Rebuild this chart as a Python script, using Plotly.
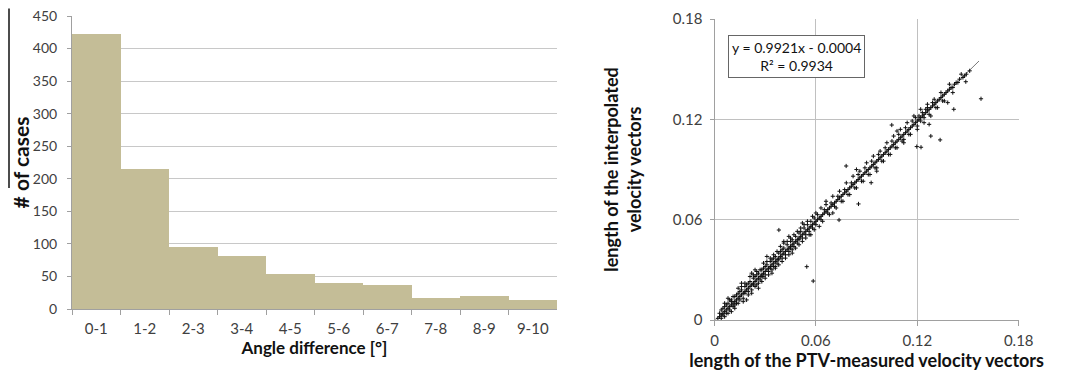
import plotly.graph_objects as go

# ---------------- data: histogram ----------------
categories = ["0-1", "1-2", "2-3", "3-4", "4-5", "5-6", "6-7", "7-8", "8-9", "9-10"]
counts = [423, 215, 95, 82, 53, 40, 37, 17, 20, 14]
hist_ticks = [0, 50, 100, 150, 200, 250, 300, 350, 400, 450]

# ---------------- data: scatter ----------------
pts = [
    (0.002,0.001),(0.003,0.004),(0.003,0.002),(0.004,0.003),(0.004,0.006),(0.005,0.004),(0.005,0.007),(0.005,0.003),
    (0.006,0.005),(0.006,0.008),(0.007,0.006),(0.007,0.004),(0.007,0.009),(0.008,0.007),(0.008,0.010),(0.009,0.008),
    (0.009,0.006),(0.010,0.009),(0.010,0.012),(0.010,0.011),(0.011,0.010),(0.011,0.008),(0.012,0.011),(0.012,0.014),
    (0.013,0.012),(0.013,0.010),(0.013,0.015),(0.014,0.013),(0.014,0.016),(0.015,0.014),(0.015,0.012),(0.015,0.017),
    (0.016,0.015),(0.016,0.018),(0.017,0.016),(0.017,0.013),(0.018,0.017),(0.018,0.020),(0.018,0.016),(0.019,0.018),
    (0.019,0.021),(0.020,0.019),(0.020,0.017),(0.020,0.022),(0.021,0.020),(0.021,0.023),(0.022,0.021),(0.022,0.018),
    (0.023,0.022),(0.023,0.025),(0.023,0.021),(0.024,0.023),(0.024,0.026),(0.025,0.024),(0.025,0.021),(0.025,0.027),
    (0.026,0.025),(0.026,0.028),(0.027,0.026),(0.027,0.024),(0.028,0.027),(0.028,0.030),(0.028,0.026),(0.029,0.028),
    (0.029,0.031),(0.030,0.029),(0.030,0.027),(0.030,0.032),(0.031,0.030),(0.031,0.033),(0.032,0.031),(0.032,0.029),
    (0.033,0.032),(0.033,0.035),(0.033,0.031),(0.034,0.033),(0.034,0.036),(0.035,0.034),(0.035,0.032),(0.035,0.037),
    (0.036,0.035),(0.036,0.038),(0.037,0.036),(0.037,0.034),(0.038,0.037),(0.038,0.040),(0.038,0.036),(0.039,0.038),
    (0.039,0.041),(0.040,0.039),(0.040,0.037),(0.040,0.042),(0.041,0.040),(0.041,0.043),(0.042,0.041),(0.042,0.039),
    (0.043,0.042),(0.043,0.045),(0.044,0.043),(0.044,0.041),(0.045,0.044),(0.045,0.047),(0.045,0.043),(0.046,0.045),
    (0.046,0.048),(0.047,0.046),(0.047,0.044),(0.048,0.047),(0.048,0.050),(0.049,0.048),(0.049,0.046),(0.050,0.049),
    (0.050,0.052),(0.050,0.048),(0.051,0.050),(0.051,0.053),(0.052,0.051),(0.052,0.049),(0.053,0.052),(0.053,0.055),
    (0.054,0.053),(0.054,0.051),(0.055,0.054),(0.055,0.057),(0.056,0.055),(0.056,0.053),(0.057,0.056),(0.057,0.059),
    (0.058,0.057),(0.058,0.055),(0.059,0.058),(0.059,0.061),(0.060,0.059),(0.060,0.057),
    (0.008,0.013),(0.012,0.007),(0.016,0.022),(0.019,0.012),(0.022,0.028),(0.026,0.019),(0.0286,0.0259),(0.031,0.038),
    (0.034,0.028),(0.0381,0.0538),(0.041,0.047),(0.046,0.040),(0.0546,0.0319),(0.0584,0.0233),(0.052,0.058),(0.057,0.051),
    (0.044,0.050),(0.036,0.031),(0.024,0.030),(0.014,0.019),(0.010,0.005),
    (0.061,0.060),(0.061,0.063),(0.062,0.061),(0.063,0.062),(0.063,0.060),(0.064,0.063),(0.065,0.064),(0.065,0.066),
    (0.066,0.065),(0.067,0.066),(0.067,0.064),(0.068,0.067),(0.069,0.068),(0.069,0.070),(0.070,0.069),(0.071,0.070),
    (0.071,0.068),(0.072,0.071),(0.073,0.072),(0.073,0.074),(0.074,0.073),(0.075,0.074),(0.075,0.071),(0.076,0.075),
    (0.077,0.076),(0.077,0.078),(0.078,0.077),(0.079,0.078),(0.079,0.075),(0.080,0.079),(0.081,0.080),(0.081,0.082),
    (0.082,0.081),(0.083,0.082),(0.083,0.079),(0.084,0.083),(0.085,0.084),(0.085,0.087),(0.086,0.085),(0.087,0.086),
    (0.087,0.083),(0.088,0.087),(0.089,0.088),(0.089,0.091),(0.090,0.089),(0.091,0.090),(0.091,0.087),(0.092,0.091),
    (0.093,0.092),(0.093,0.095),(0.094,0.093),(0.095,0.094),(0.095,0.091),(0.096,0.095),(0.097,0.096),(0.097,0.099),
    (0.098,0.097),(0.099,0.098),(0.099,0.095),(0.100,0.099),(0.101,0.100),(0.101,0.103),(0.102,0.101),(0.103,0.102),
    (0.103,0.099),(0.104,0.103),(0.105,0.104),(0.105,0.107),(0.106,0.105),(0.107,0.106),(0.107,0.103),(0.108,0.107),
    (0.109,0.108),(0.109,0.111),(0.110,0.109),(0.111,0.110),(0.111,0.107),(0.112,0.111),(0.113,0.112),(0.113,0.115),
    (0.114,0.113),(0.115,0.114),(0.115,0.111),(0.116,0.115),(0.117,0.116),(0.117,0.119),(0.118,0.117),(0.119,0.118),
    (0.119,0.121),(0.120,0.119),(0.120,0.116),
    (0.0737,0.0598),(0.0779,0.0921),(0.0852,0.0694),(0.0927,0.0821),(0.1049,0.1166),(0.066,0.071),(0.070,0.064),
    (0.084,0.090),(0.096,0.089),(0.108,0.113),(0.112,0.106),
    (0.121,0.120),(0.121,0.122),(0.122,0.121),(0.122,0.119),(0.123,0.122),(0.123,0.124),(0.124,0.123),(0.124,0.121),
    (0.125,0.124),(0.125,0.126),(0.126,0.125),(0.127,0.126),(0.127,0.123),(0.128,0.127),(0.129,0.128),(0.129,0.130),
    (0.130,0.129),(0.131,0.130),(0.131,0.127),(0.132,0.131),(0.133,0.132),(0.134,0.133),(0.135,0.134),(0.135,0.131),
    (0.136,0.135),(0.137,0.136),(0.138,0.137),(0.139,0.138),(0.140,0.139),(0.141,0.139),(0.142,0.141),(0.143,0.142),
    (0.145,0.144),(0.147,0.145),(0.149,0.147),(0.151,0.149),
    (0.1197,0.1037),(0.1222,0.1033),(0.1335,0.1077),(0.1416,0.126),(0.1577,0.1323),(0.1487,0.1425),(0.127,0.117),
    (0.128,0.110),(0.138,0.130),(0.126,0.129),
    (0.004,0.001),(0.006,0.002),(0.006,0.010),(0.008,0.004),(0.009,0.012),(0.011,0.014),(0.012,0.009),(0.014,0.010),
    (0.016,0.020),(0.017,0.011),(0.018,0.022),(0.020,0.015),(0.021,0.026),(0.022,0.016),(0.023,0.027),(0.024,0.020),
    (0.025,0.029),(0.026,0.022),(0.027,0.030),(0.028,0.023),(0.029,0.034),(0.030,0.025),(0.031,0.035),(0.032,0.027),
    (0.033,0.037),(0.034,0.030),(0.035,0.039),(0.036,0.032),(0.037,0.041),(0.038,0.033),(0.039,0.044),(0.040,0.035),
    (0.041,0.046),(0.042,0.037),(0.043,0.047),(0.044,0.039),(0.045,0.049),(0.046,0.042),(0.047,0.051),(0.048,0.043),
    (0.049,0.053),(0.050,0.045),(0.051,0.055),(0.052,0.047),(0.053,0.057),(0.054,0.049),(0.055,0.059),(0.056,0.051),
    (0.058,0.062),(0.059,0.054),(0.060,0.064),(0.062,0.056),(0.063,0.067),(0.064,0.059),(0.066,0.069),(0.068,0.063),
    (0.070,0.074),(0.072,0.067),(0.074,0.077),(0.076,0.071),(0.078,0.082),(0.080,0.075),(0.082,0.086),(0.084,0.079),
    (0.086,0.089),(0.088,0.083),(0.090,0.094),(0.092,0.087),(0.094,0.098),(0.096,0.091),(0.098,0.101),(0.100,0.095),
    (0.102,0.106),(0.104,0.099),(0.106,0.110),(0.108,0.103),(0.110,0.114),(0.112,0.108),(0.114,0.118),(0.116,0.111),
    (0.118,0.122),(0.120,0.114),(0.122,0.126),(0.124,0.118),(0.126,0.127),(0.128,0.122),(0.130,0.132),(0.132,0.127),
    (0.134,0.136),(0.136,0.131),(0.139,0.141),(0.141,0.136),(0.144,0.142),(0.146,0.147),(0.148,0.146),
]
ptv_x = [p[0] for p in pts]
interp_y = [p[1] for p in pts]

slope = 0.9921
intercept = -0.0004
trend_x = [0.0005, 0.1565]
trend_y = [slope * v + intercept for v in trend_x]

vel_ticks = [0, 0.06, 0.12, 0.18]
vel_tick_text = ["0", "0.06", "0.12", "0.18"]

# the page body has an 8px default margin, so the figure is shrunk by it
OFF = 8
W, H = 1075 - OFF, 374 - OFF
FONT = "Lato"
TXT = "#404040"

fig = go.Figure()

fig.add_trace(go.Bar(
    x=categories, y=counts, marker=dict(color="#C4BD97", line=dict(width=0)),
    xaxis="x", yaxis="y", showlegend=False,
))

fig.add_trace(go.Scatter(
    x=trend_x, y=trend_y, mode="lines", line=dict(color="#555555", width=0.8),
    xaxis="x2", yaxis="y2", showlegend=False,
))
fig.add_trace(go.Scatter(
    x=ptv_x, y=interp_y, mode="markers",
    marker=dict(symbol="cross-thin", size=3, color="#111111", line=dict(width=1, color="#111111")),
    xaxis="x2", yaxis="y2", showlegend=False,
))

def px_x(p):
    return (p - OFF) / W

def px_y(p):
    return 1 - (p - OFF) / H

fig.update_layout(
    template="none",
    width=W, height=H, margin=dict(l=0, r=0, t=0, b=0, autoexpand=False),
    paper_bgcolor="white", plot_bgcolor="white",
    font=dict(family=FONT, color=TXT, size=15),
    bargap=0,
    xaxis=dict(
        domain=[px_x(72), px_x(557)], anchor="y", automargin=False,
        type="category", tickson="boundaries", ticks="outside", ticklen=5,
        tickcolor="#a0a0a0", showline=True, linecolor="#a0a0a0", linewidth=1,
        showgrid=False, tickfont=dict(size=15, color=TXT), ticklabelstandoff=6,
        title=dict(text="<b>Angle difference [°]</b>", font=dict(size=17, color="#111111"), standoff=6),
    ),
    yaxis=dict(
        domain=[px_y(309), px_y(16)], anchor="x", automargin=False,
        range=[0, 450], tickvals=hist_ticks, ticks="outside", ticklen=4, tickcolor="#a0a0a0",
        showline=True, linecolor="#a0a0a0", linewidth=1,
        showgrid=True, gridcolor="#c8c8c8", gridwidth=1, ticklabeloverflow="allow",
        tickfont=dict(size=14, color=TXT), zeroline=False, ticklabelstandoff=7,
        title=dict(text="<b># of cases</b>", font=dict(size=21, color="#111111"), standoff=3),
    ),
    xaxis2=dict(
        domain=[px_x(714.5), px_x(1018.7)], anchor="y2", automargin=False,
        range=[0, 0.18], tickvals=vel_ticks, ticktext=vel_tick_text,
        ticks="outside", ticklen=5, tickcolor="#a0a0a0",
        showline=True, linecolor="#a0a0a0", mirror=False, ticklabeloverflow="allow",
        showgrid=True, gridcolor="#c0c0c0", zeroline=False,
        tickfont=dict(size=15, color=TXT), ticklabelstandoff=2,
        title=dict(text="<b>length of the PTV-measured velocity vectors</b>", font=dict(size=18, color="#111111"), standoff=6),
    ),
    yaxis2=dict(
        domain=[px_y(320), px_y(19)], anchor="x2", automargin=False,
        range=[0, 0.18], tickvals=vel_ticks, ticktext=vel_tick_text,
        ticks="outside", ticklen=4, tickcolor="#a0a0a0",
        showline=True, linecolor="#a0a0a0", ticklabeloverflow="allow",
        showgrid=True, gridcolor="#c0c0c0", zeroline=False,
        tickfont=dict(size=15, color=TXT), ticklabelstandoff=4,
        title=dict(text="<b>length of the interpolated<br>velocity vectors</b>", font=dict(size=18, color="#111111"), standoff=26),
    ),
    annotations=[
        dict(
            x=0.0081, y=0.1705, xref="x2", yref="y2", xanchor="left", yanchor="top",
            text="y = 0.9921x - 0.0004<br>R² = 0.9934", showarrow=False,
            align="center", font=dict(size=14, color="#111111"),
            bgcolor="white", bordercolor="#666666", borderwidth=1, borderpad=3,
        )
    ],
    shapes=[
        dict(type="line", xref="paper", yref="paper",
             x0=px_x(9), x1=px_x(9), y0=px_y(8.5), y1=px_y(188),
             line=dict(color="#111111", width=1.5)),
    ],
)

fig.write_html("out.html")
